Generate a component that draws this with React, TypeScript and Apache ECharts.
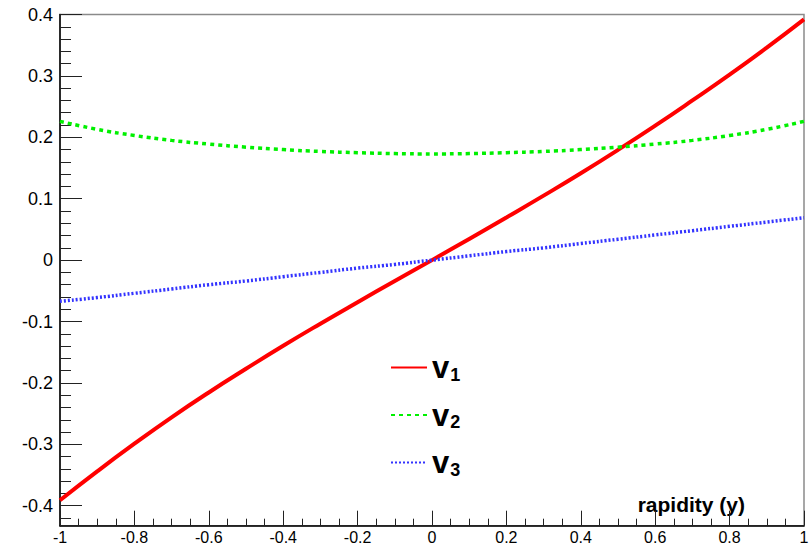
import React, { useEffect, useRef } from "react";
import * as echarts from "echarts";

const rapidity = [-1.0, -0.9, -0.8, -0.7, -0.6, -0.5, -0.4, -0.3, -0.2, -0.1, 0.0, 0.1, 0.2, 0.3, 0.4, 0.5, 0.6, 0.7, 0.8, 0.9, 1.0];
const v1 = [-0.391, -0.344, -0.299, -0.256, -0.2155, -0.177, -0.1395, -0.1035, -0.0685, -0.034, 0.0, 0.0345, 0.0695, 0.105, 0.1415, 0.1795, 0.219, 0.260, 0.302, 0.346, 0.392];
const v2 = [0.226, 0.213, 0.203, 0.195, 0.189, 0.184, 0.180, 0.177, 0.175, 0.1735, 0.173, 0.1735, 0.175, 0.177, 0.180, 0.184, 0.189, 0.195, 0.203, 0.213, 0.226];
const v3 = [-0.067, -0.061, -0.054, -0.047, -0.040, -0.034, -0.027, -0.020, -0.013, -0.007, 0.0, 0.007, 0.014, 0.020, 0.027, 0.034, 0.041, 0.048, 0.055, 0.062, 0.069];
const seriesNames = ["v1", "v2", "v3"];
const subscripts: Record<string, string> = { v1: "1", v2: "2", v3: "3" };
const xTitle = "rapidity (y)";

const FONT = "'Liberation Sans', Arial, Helvetica, sans-serif";

export default function App() {
  const ref = useRef<HTMLDivElement>(null);
  useEffect(() => {
    if (!ref.current) return;
    const chart = echarts.init(ref.current, undefined, { renderer: "svg" });
    const pair = (ys: number[]) => rapidity.map((x, i) => [x, ys[i]]);
    chart.setOption({
      animation: false,
      backgroundColor: "#ffffff",
      textStyle: { fontFamily: FONT },
      grid: {
        left: 60,
        right: 8,
        top: 14.5,
        bottom: 21.3,
        containLabel: false,
        outerBoundsMode: "none",
        show: true,
        borderColor: "#8a8a8a",
        borderWidth: 1.5,
        backgroundColor: "#ffffff",
      },
      xAxis: {
        type: "value",
        min: -1,
        max: 1,
        interval: 0.2,
        name: xTitle,
        nameLocation: "end",
        nameGap: -59,
        nameTextStyle: {
          align: "right",
          verticalAlign: "bottom",
          fontFamily: FONT,
          fontWeight: "bold",
          fontSize: 21,
          color: "#000",
          padding: [0, 0, 11, 0],
        },
        axisLine: { show: true, onZero: false, lineStyle: { color: "#000", width: 1.5 } },
        axisTick: { show: true, inside: true, length: 15, lineStyle: { color: "#222", width: 1 } },
        minorTick: { show: true, splitNumber: 4, length: 7, lineStyle: { color: "#222", width: 1 } },
        splitLine: { show: false },
        axisLabel: { color: "#000", fontSize: 16, fontFamily: FONT, margin: 4, lineHeight: 16 },
      },
      yAxis: {
        type: "value",
        min: -0.4325,
        max: 0.4,
        splitNumber: 8,
        axisLine: { show: true, onZero: false, lineStyle: { color: "#000", width: 1.5 } },
        axisTick: { show: true, inside: true, length: 22, lineStyle: { color: "#222", width: 1 } },
        minorTick: { show: true, splitNumber: 5, length: 11, lineStyle: { color: "#222", width: 1 } },
        splitLine: { show: false },
        axisLabel: { color: "#000", fontSize: 18, fontFamily: FONT, margin: 7, showMinLabel: false },
      },
      legend: {
        orient: "vertical",
        left: 390,
        top: 352,
        padding: 0,
        icon: "inherit",
        itemWidth: 36,
        itemHeight: 14,
        itemGap: 16,
        itemTextGap: 6,
        itemStyle: { opacity: 0 },
        selectedMode: false,
        data: seriesNames,
        formatter: (name: string) => `{v|v}{s|${subscripts[name]}}`,
        textStyle: {
          fontFamily: FONT,
          rich: {
            v: { fontSize: 31, fontWeight: "bold", color: "#000", lineHeight: 32, fontFamily: FONT },
            s: { fontSize: 18, fontWeight: "bold", color: "#000", padding: [14, 0, 0, 1], fontFamily: FONT },
          },
        },
      },
      series: [
        {
          name: "v1",
          type: "line",
          data: pair(v1),
          smooth: true,
          symbol: "none",
          lineStyle: { color: "#ff0000", width: 4 },
          itemStyle: { color: "#ff0000" },
        },
        {
          name: "v2",
          type: "line",
          data: pair(v2),
          smooth: true,
          symbol: "none",
          lineStyle: { color: "#00f000", width: 3.5, type: [4, 4] },
          itemStyle: { color: "#00f000" },
        },
        {
          name: "v3",
          type: "line",
          data: pair(v3),
          smooth: true,
          symbol: "none",
          lineStyle: { color: "#3333ff", width: 3.5, type: [2, 2] },
          itemStyle: { color: "#3333ff" },
        },
      ],
    });
    return () => chart.dispose();
  }, []);
  return (
    <div
      ref={ref}
      style={{ position: "fixed", left: 0, top: 0, width: 812, height: 547, background: "#fff" }}
    />
  );
}
